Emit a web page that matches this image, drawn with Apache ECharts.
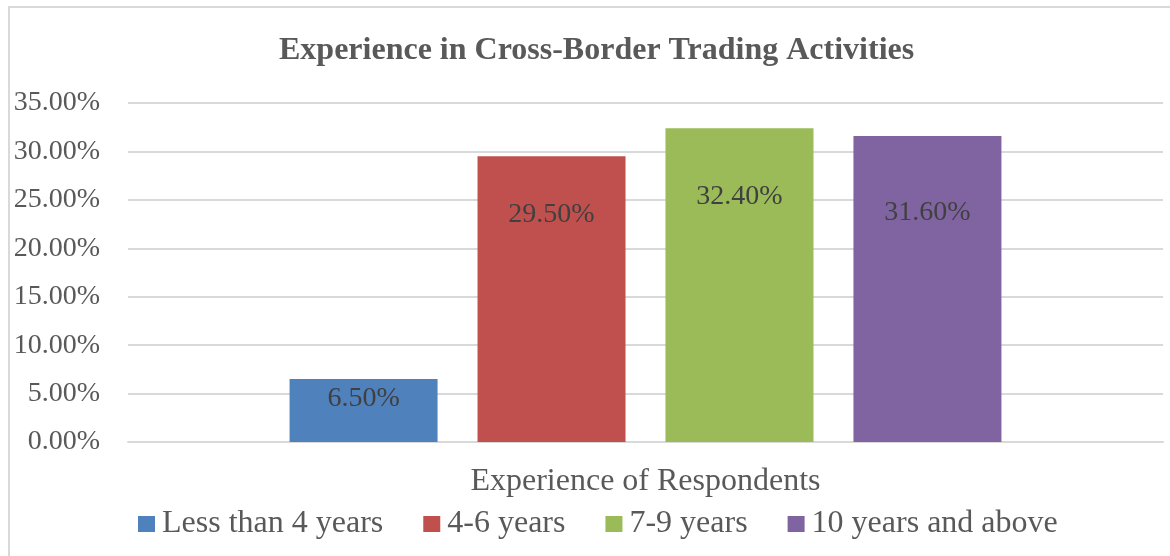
<!DOCTYPE html>
<html>
<head>
<meta charset="utf-8">
<script src="https://cdn.jsdelivr.net/npm/echarts@6/dist/echarts.min.js"></script>
<style>
  html, body { margin: 0; padding: 0; background: #fff; }
  #myChart { width: 1170px; height: 556px; }
</style>
</head>
<body>
<div id="myChart"></div>
<script>
  // data
  var categories = ['Experience of Respondents'];
  var seriesNames = ['Less than 4 years', '4-6 years', '7-9 years', '10 years and above'];
  var seriesValues = [6.5, 29.5, 32.4, 31.6];
  var yTicks = [0, 5, 10, 15, 20, 25, 30, 35];

  var colors = ['#4F81BD', '#C0504D', '#9BBB59', '#8064A2'];
  // labels sit at uneven depths inside the bars
  var labelDrop = [6, 44, 54, 63];

  var font = '"Liberation Serif", "Times New Roman", serif';
  var myChart = echarts.init(document.getElementById('myChart'));

  var series = seriesNames.map(function (name, i) {
    return {
      name: name,
      type: 'bar',
      barWidth: 148,
      barGap: '27%',
      itemStyle: { color: colors[i] },
      label: {
        show: true,
        position: 'insideTop',
        distance: 0,
        offset: [0, labelDrop[i]],
        fontFamily: font,
        fontSize: 28,
        lineHeight: 28,
        color: '#404040',
        formatter: function (p) { return p.value.toFixed(2) + '%'; }
      },
      data: [seriesValues[i]]
    };
  });

  myChart.setOption({
    backgroundColor: '#fff',
    animation: false,
    textStyle: { fontFamily: font },
    title: {
      text: 'Experience in Cross-Border Trading Activities',
      left: 274,
      top: 30,
      textStyle: { fontFamily: font, fontSize: 32, fontWeight: 'bold', color: '#595959' }
    },
    graphic: [{
      type: 'rect',
      shape: { x: 9, y: 7, width: 1300, height: 700 },
      style: { fill: 'none', stroke: '#D9D9D9', lineWidth: 2 },
      silent: true
    }],
    legend: {
      left: 133,
      top: 503,
      itemWidth: 17,
      itemHeight: 16,
      itemGap: 40,
      icon: 'rect',
      textStyle: { fontFamily: font, fontSize: 32, color: '#595959', padding: [0, 0, 0, 2] },
      data: seriesNames
    },
    grid: { left: 128, right: 7, top: 103, bottom: 114 },
    xAxis: {
      type: 'category',
      data: categories,
      name: categories[0],
      nameLocation: 'middle',
      nameGap: 24,
      nameTextStyle: { fontFamily: font, fontSize: 32, color: '#595959', verticalAlign: 'top' },
      axisLine: { show: true, lineStyle: { color: '#D9D9D9', width: 2 } },
      axisTick: { show: false },
      axisLabel: { show: false }
    },
    yAxis: {
      type: 'value',
      min: yTicks[0],
      max: yTicks[yTicks.length - 1],
      interval: 5,
      axisLine: { show: false },
      axisTick: { show: false },
      axisLabel: {
        margin: 28,
        fontFamily: font,
        fontSize: 28,
        color: '#595959',
        formatter: function (v) { return v.toFixed(2) + '%'; }
      },
      splitLine: { lineStyle: { color: '#D9D9D9', width: 2 } }
    },
    series: series
  });
</script>
</body>
</html>
